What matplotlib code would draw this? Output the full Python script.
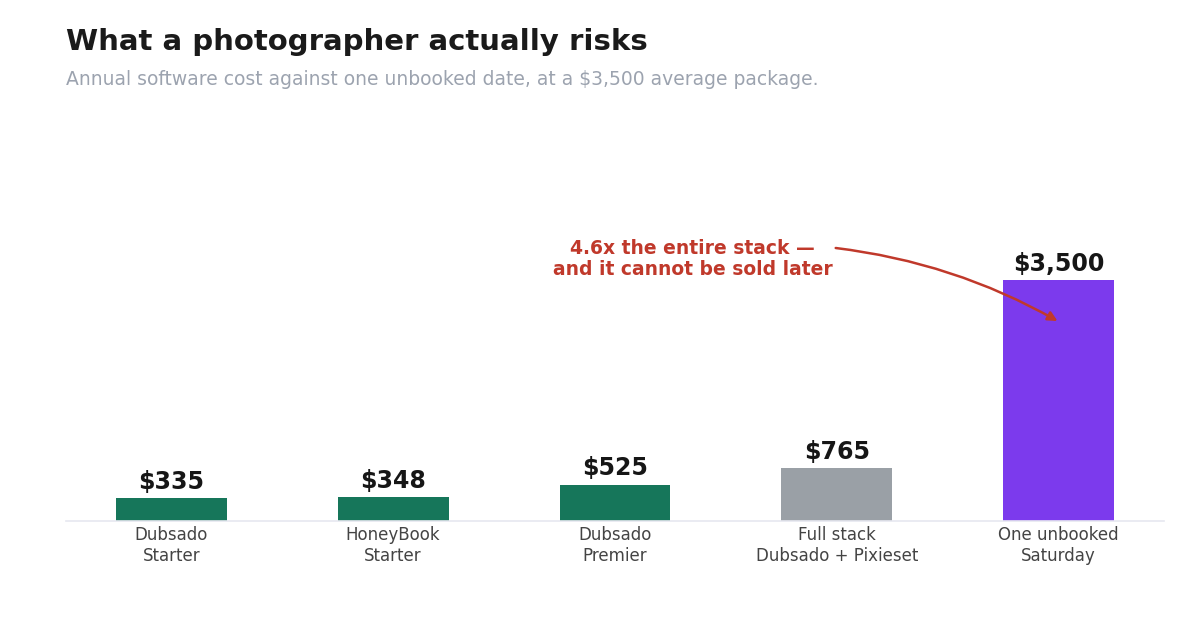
import numpy as np
import matplotlib.pyplot as plt

plt.rcParams['font.family'] = ['DejaVu Sans']

# data
categories = ["Dubsado\nStarter", "HoneyBook\nStarter", "Dubsado\nPremier",
              "Full stack\nDubsado + Pixieset", "One unbooked\nSaturday"]
costs = [335, 348, 525, 765, 3500]
labels = ["$335", "$348", "$525", "$765", "$3,500"]
colors = ["#16765a", "#16765a", "#16765a", "#9aa0a6", "#7c3aed"]

fig = plt.figure(figsize=(12, 6.2), dpi=100)
ax = fig.add_axes([0.055, 0.16, 0.915, 0.65])

x = np.arange(len(costs))
bars = ax.bar(x, costs, width=0.5, color=colors, zorder=2)

for xi, v, lab in zip(x, costs, labels):
    ax.annotate(lab, (xi, v), xytext=(0, 3), textcoords="offset points",
                ha="center", va="bottom", fontsize=17, fontweight="bold",
                color="#161616")

ax.set_xlim(-0.475, 4.475)
ax.set_ylim(0, 5850)
ax.set_xticks(x)
ax.set_xticklabels(categories, fontsize=12, color="#444444")
ax.tick_params(axis="x", length=0, pad=4)
ax.set_yticks([])
for s in ["top", "right", "left"]:
    ax.spines[s].set_visible(False)
ax.spines["bottom"].set_color("#e6e7f0")
ax.spines["bottom"].set_linewidth(1.2)

# annotation
ax.text(2.35, 3800, "4.6x the entire stack —\nand it cannot be sold later",
        ha="center", va="center", fontsize=13.5, fontweight="bold",
        color="#c0392b", linespacing=1.15)
ax.annotate("", xy=(3.995, 2900), xytext=(2.995, 3960),
            arrowprops=dict(arrowstyle="-|>", color="#c0392b", lw=1.8,
                            mutation_scale=14, shrinkA=0, shrinkB=0,
                            connectionstyle="arc3,rad=-0.1"))

fig.text(0.055, 0.932, "What a photographer actually risks", fontsize=21,
         fontweight="bold", color="#1a1a1a", va="center")
fig.text(0.055, 0.871, "Annual software cost against one unbooked date, at a $3,500 average package.",
         fontsize=13.5, color="#9ca3af", va="center")

fig.savefig("out.png", dpi=100)
